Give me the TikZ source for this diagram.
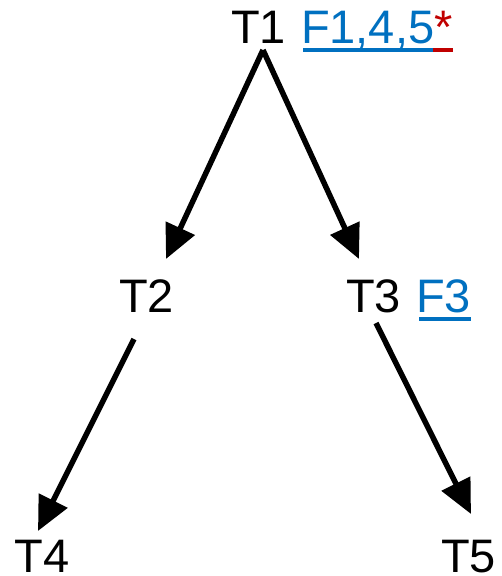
\documentclass[tikz,border=0pt]{standalone}
\usepackage{fontspec}
\setmainfont{Liberation Sans}
\usetikzlibrary{arrows.meta}
\definecolor{linkblue}{RGB}{0,112,192}
\definecolor{markred}{RGB}{192,0,0}
\begin{document}
\begin{tikzpicture}[x=1pt,y=-1pt,
  lbl/.style={anchor=base west,inner sep=0pt,outer sep=0pt,text depth=0pt,font=\fontsize{47}{56}\selectfont},
  link/.style={lbl,text=linkblue},
  edge/.style={line width=5.5pt,-{Triangle[length=34pt,width=31pt]}},
  uline/.style={line width=4pt}]
\useasboundingbox (0,0) rectangle (502,576);
% tree labels
\node[lbl] (t1) at (231,43) {T1};
\node[link] (f1) at (301,43) {F1,4,5};
\node[lbl,text=markred] (ast) at (f1.base east) {*};
\node[lbl] (t2) at (119,312) {T2};
\node[lbl] (t3) at (346,312) {T3};
\node[link] (f3) at (416,312) {F3};
\node[lbl] (t4) at (15,572) {T4};
\node[lbl] (t5) at (441,572) {T5};
% underlines of the references
\draw[uline,linkblue] ([shift={(2,7)}]f1.base west) -- ([shift={(-1,7)}]f1.base east);
\draw[uline,markred] ([shift={(-1,7)}]ast.base west) -- ([shift={(0,7)}]ast.base east);
\draw[uline,linkblue] ([shift={(3,7)}]f3.base west) -- ([shift={(0,7)}]f3.base east);
% edge end points
\coordinate (t1s) at (263,50);
\coordinate (t2n) at (166,259);
\coordinate (t3n) at (359,259);
\coordinate (t2s) at (134,339);
\coordinate (t3s) at (376,323);
\coordinate (t4n) at (38,531);
\coordinate (t5n) at (471,514);
% edges
\draw[edge] (t1s) -- (t2n);
\draw[edge] (t1s) -- (t3n);
\draw[edge] (t2s) -- (t4n);
\draw[edge] (t3s) -- (t5n);
\end{tikzpicture}
\end{document}
